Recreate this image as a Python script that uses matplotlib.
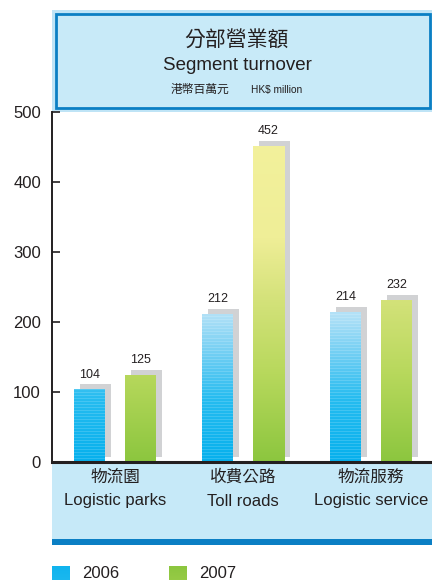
import numpy as np
import matplotlib
matplotlib.use("Agg")
import matplotlib.pyplot as plt
from matplotlib.patches import Rectangle
from matplotlib.colors import to_rgb
import matplotlib.transforms as mtransforms

plt.rcParams['font.family'] = ['Liberation Sans', 'Noto Sans CJK TC', 'DejaVu Sans']

# ---- data -------------------------------------------------------------
categories_zh = ["物流園", "收費公路", "物流服務"]
categories_en = ["Logistic parks", "Toll roads", "Logistic service"]
series_names = ["2006", "2007"]
values_2006 = [104, 212, 214]
values_2007 = [125, 452, 232]
yticks = [0, 100, 200, 300, 400, 500]

title_zh = "分部營業額"
title_en = "Segment turnover"
unit_zh = "港幣百萬元"
unit_en = "HK$ million"

# ---- figure geometry (pixels, origin at top-left) -------------------
W, H = 432, 580
fig = plt.figure(figsize=(W / 100, H / 100), dpi=100)


def frac_box(x0, y0, x1, y1):
    """pixel box (top-left origin) -> figure fraction [l, b, w, h]"""
    return [x0 / W, 1 - y1 / H, (x1 - x0) / W, (y1 - y0) / H]


def fig_rect(x0, y0, x1, y1, **kw):
    l, b, w, h = frac_box(x0, y0, x1, y1)
    r = Rectangle((l, b), w, h, transform=fig.transFigure, **kw)
    fig.add_artist(r)
    return r


def fx(x):
    return x / W


def fy(y):
    return 1 - y / H


AX_L, AX_T, AX_R, AX_B = 52, 112, 432, 462
ax = fig.add_axes(frac_box(AX_L, AX_T, AX_R, AX_B))

ymin, ymax = 0, 500
x_left = -0.492
x_span = (AX_R - AX_L) / 128.0

# ---- colour ramps (by absolute value) ---------------------------------
blue_stops = [(0, "#06b0ed"), (90, "#26bcf0"), (150, "#6ccdf3"),
              (210, "#b2e1f7"), (500, "#bfe6f8")]
green_stops = [(0, "#8cc63f"), (125, "#b7d85c"), (232, "#d4e27a"),
               (320, "#efee97"), (500, "#f4f29d")]


def ramp(stops, n):
    vals = np.linspace(ymin, ymax, n)
    xs = [s[0] for s in stops]
    cols = np.array([to_rgb(s[1]) for s in stops])
    out = np.zeros((n, 3))
    for c in range(3):
        out[:, c] = np.interp(vals, xs, cols[:, c])
    return out


NROWS = 350
blue_img = ramp(blue_stops, NROWS)
# faint lighter horizontal streaks on the 2006 bars
for r in range(0, NROWS, 3):
    blue_img[r] = blue_img[r] * 0.85 + 0.15
green_img = ramp(green_stops, NROWS)

bar_w = 31 / 128.0
offset = 0.2
shadow_dx = 6 / 128.0
shadow_dy = 5 / 0.7
shadow_color = "#d1d2d4"


def draw_bar(xc, v, img):
    x0 = xc - bar_w / 2
    ax.add_patch(Rectangle((x0 + shadow_dx, shadow_dy), bar_w, v,
                           facecolor=shadow_color, edgecolor="none", zorder=1))
    clip = Rectangle((x0, 0), bar_w, v, transform=ax.transData)
    im = ax.imshow(img[:, None, :], extent=(x0, x0 + bar_w, ymin, ymax),
                   origin="lower", aspect="auto", interpolation="nearest",
                   zorder=2)
    im.set_clip_path(clip)
    ax.text(xc, v + 21, f"{v}", ha="center", va="center", fontsize=9,
            color="#231f20", zorder=3)


x = np.arange(len(categories_en))
for i in range(len(x)):
    draw_bar(x[i] - offset, values_2006[i], blue_img)
    draw_bar(x[i] + offset, values_2007[i], green_img)

ax.set_xlim(x_left, x_left + x_span)
ax.set_ylim(ymin, ymax)

# ---- axes styling ------------------------------------------------------
for s in ("top", "right"):
    ax.spines[s].set_visible(False)
ax.spines["left"].set_linewidth(1.4)
ax.spines["left"].set_color("#231f20")
ax.spines["bottom"].set_linewidth(2.2)
ax.spines["bottom"].set_color("#231f20")
ax.set_xticks([])
ax.set_yticks(yticks)
ax.set_yticklabels([str(t) for t in yticks])
ax.tick_params(axis="y", direction="in", length=6, width=1.2,
               colors="#231f20", labelsize=12, pad=8)
ax.patch.set_alpha(0)

# ---- category label band ---------------------------------------------
fig_rect(52, 463, 432, 540, facecolor="#c6e9f8", edgecolor="none", zorder=0)
fig_rect(52, 539, 432, 545, facecolor="#0b7fc4", edgecolor="none", zorder=0)

trans = mtransforms.blended_transform_factory(ax.transData, fig.transFigure)
for i in range(len(x)):
    ax.text(x[i], fy(477), categories_zh[i], transform=trans, ha="center",
            va="center", fontsize=12, color="#231f20", clip_on=False)
    ax.text(x[i], fy(501), categories_en[i], transform=trans, ha="center",
            va="center", fontsize=12, color="#231f20", clip_on=False)

# ---- title box ---------------------------------------------------------
fig_rect(52, 10, 432, 112, facecolor="#bfe4f6", edgecolor="none", zorder=0)
fig_rect(56, 14, 429.5, 108, facecolor="#c8eaf8", edgecolor="#0b7fc4",
         linewidth=2, zorder=0.5)
fig.text(fx(236), fy(40), title_zh, ha="center", va="center", fontsize=15,
         color="#231f20")
fig.text(fx(237), fy(66), title_en, ha="center", va="center", fontsize=13.5,
         color="#231f20")
fig.text(fx(200), fy(90), unit_zh, ha="center", va="center", fontsize=8.5,
         color="#231f20")
fig.text(fx(251), fy(90), unit_en, ha="left", va="center", fontsize=7.3,
         color="#231f20")

# ---- legend ------------------------------------------------------------
leg_x = [52, 169]
leg_imgs = [blue_img[20:44], green_img[0:24]]
for lx, name, im_data in zip(leg_x, series_names, leg_imgs):
    l, b, w, h = frac_box(lx, 566, lx + 18, 582)
    lax = fig.add_axes([l, b, w, h])
    lax.imshow(im_data[:, None, :], aspect="auto", interpolation="nearest")
    lax.set_axis_off()
    fig.text(fx(lx + 30), fy(574), name, ha="left", va="center", fontsize=12,
             color="#231f20")

fig.savefig("out.png", dpi=100)
